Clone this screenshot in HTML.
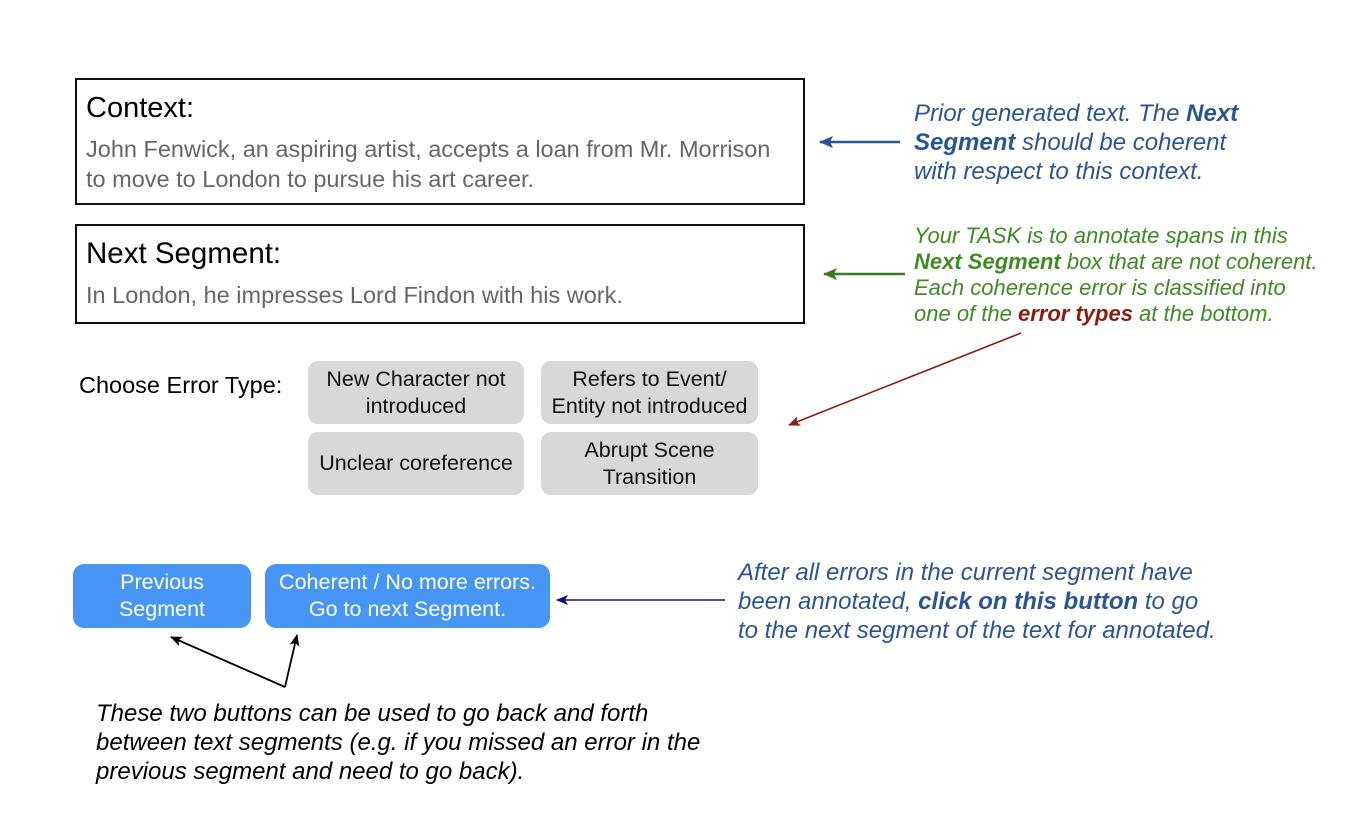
<!DOCTYPE html>
<html><head><meta charset="utf-8"><style>
body{margin:0;width:1360px;height:829px;background:#fff;position:relative;overflow:hidden;font-family:"Liberation Sans",Arial,sans-serif;}
.a{position:absolute;white-space:nowrap;}
.box{position:absolute;border:2.5px solid #111;box-sizing:border-box;}
.t{color:#000;}
.g{font-size:23.5px;color:#666;line-height:30px;}
.eb{position:absolute;background:#d8d8d8;border-radius:10px;font-size:21.5px;color:#111;display:flex;align-items:center;justify-content:center;text-align:center;line-height:27px;}
.bb{position:absolute;background:#4796f5;border-radius:11px;font-size:21.5px;color:#fff;display:flex;align-items:center;justify-content:center;text-align:center;line-height:27px;}
.i{font-style:italic;}
</style></head><body>
<div class="box" style="left:75px;top:78px;width:730px;height:127px;"></div>
<div class="a t" style="left:86px;top:92px;font-size:29px;">Context:</div>
<div class="a g" style="left:86px;top:134px;">John Fenwick, an aspiring artist, accepts a loan from Mr. Morrison<br>to move to London to pursue his art career.</div>
<div class="box" style="left:75px;top:224px;width:730px;height:100px;"></div>
<div class="a t" style="left:86px;top:237px;font-size:29.5px;">Next Segment:</div>
<div class="a g" style="left:86px;top:280px;">In London, he impresses Lord Findon with his work.</div>
<div class="a" style="left:79px;top:372px;font-size:23.5px;">Choose Error Type:</div>
<div class="eb" style="left:308px;top:361px;width:216px;height:63px;">New Character not<br>introduced</div>
<div class="eb" style="left:541px;top:361px;width:217px;height:63px;">Refers to Event/<br>Entity not introduced</div>
<div class="eb" style="left:308px;top:432px;width:216px;height:63px;">Unclear coreference</div>
<div class="eb" style="left:541px;top:432px;width:217px;height:63px;">Abrupt Scene<br>Transition</div>
<div class="bb" style="left:73px;top:564px;width:178px;height:64px;">Previous<br>Segment</div>
<div class="bb" style="left:265px;top:564px;width:285px;height:64px;">Coherent / No more errors.<br>Go to next Segment.</div>
<div class="a i" style="left:914px;top:99px;font-size:24px;line-height:29px;color:#2a5595;">Prior generated text. The <b>Next</b><br><b>Segment</b> should be coherent<br>with respect to this context.</div>
<div class="a i" style="left:914px;top:223px;font-size:22px;line-height:26px;color:#3c8c22;">Your TASK is to annotate spans in this<br><b>Next Segment</b> box that are not coherent.<br>Each coherence error is classified into<br>one of the <b style="color:#8d1b10;">error types</b> at the bottom.</div>
<div class="a i" style="left:738px;top:558px;font-size:24px;line-height:29px;color:#2a5595;">After all errors in the current segment have<br>been annotated, <b>click on this button</b> to go<br>to the next segment of the text for annotated.</div>
<div class="a i" style="left:96px;top:699px;font-size:24px;line-height:29px;color:#000;">These two buttons can be used to go back and forth<br>between text segments (e.g. if you missed an error in the<br>previous segment and need to go back).</div>
<svg width="1360" height="829" style="position:absolute;left:0;top:0;">
<defs>
<marker id="mb" markerWidth="14" markerHeight="12" refX="13" refY="6" orient="auto" markerUnits="userSpaceOnUse"><path d="M0,0 L14,6 L0,12 L3,6 Z" fill="#2a5595"/></marker>
<marker id="mg" markerWidth="14" markerHeight="12" refX="13" refY="6" orient="auto" markerUnits="userSpaceOnUse"><path d="M0,0 L14,6 L0,12 L3,6 Z" fill="#3a7a25"/></marker>
<marker id="mr" markerWidth="12" markerHeight="10" refX="11" refY="5" orient="auto" markerUnits="userSpaceOnUse"><path d="M0,0 L12,5 L0,10 L3,5 Z" fill="#8d1b10"/></marker>
<marker id="mn" markerWidth="12" markerHeight="10" refX="11" refY="5" orient="auto" markerUnits="userSpaceOnUse"><path d="M0,0 L12,5 L0,10 L3,5 Z" fill="#13137a"/></marker>
<marker id="mk" markerWidth="12" markerHeight="10" refX="11" refY="5" orient="auto" markerUnits="userSpaceOnUse"><path d="M0,0 L12,5 L0,10 L3,5 Z" fill="#000"/></marker>
</defs>
<line x1="900" y1="142" x2="820" y2="142" stroke="#2a5595" stroke-width="2.5" marker-end="url(#mb)"/>
<line x1="905" y1="274" x2="824" y2="274" stroke="#3a7a25" stroke-width="2.5" marker-end="url(#mg)"/>
<line x1="1021" y1="333" x2="789" y2="425" stroke="#8d1b10" stroke-width="1.6" marker-end="url(#mr)"/>
<line x1="725" y1="600" x2="557" y2="600" stroke="#13137a" stroke-width="1.6" marker-end="url(#mn)"/>
<line x1="285" y1="687" x2="171" y2="637" stroke="#000" stroke-width="1.8" marker-end="url(#mk)"/>
<line x1="285" y1="687" x2="297" y2="635" stroke="#000" stroke-width="1.8" marker-end="url(#mk)"/>
</svg>
</body></html>
